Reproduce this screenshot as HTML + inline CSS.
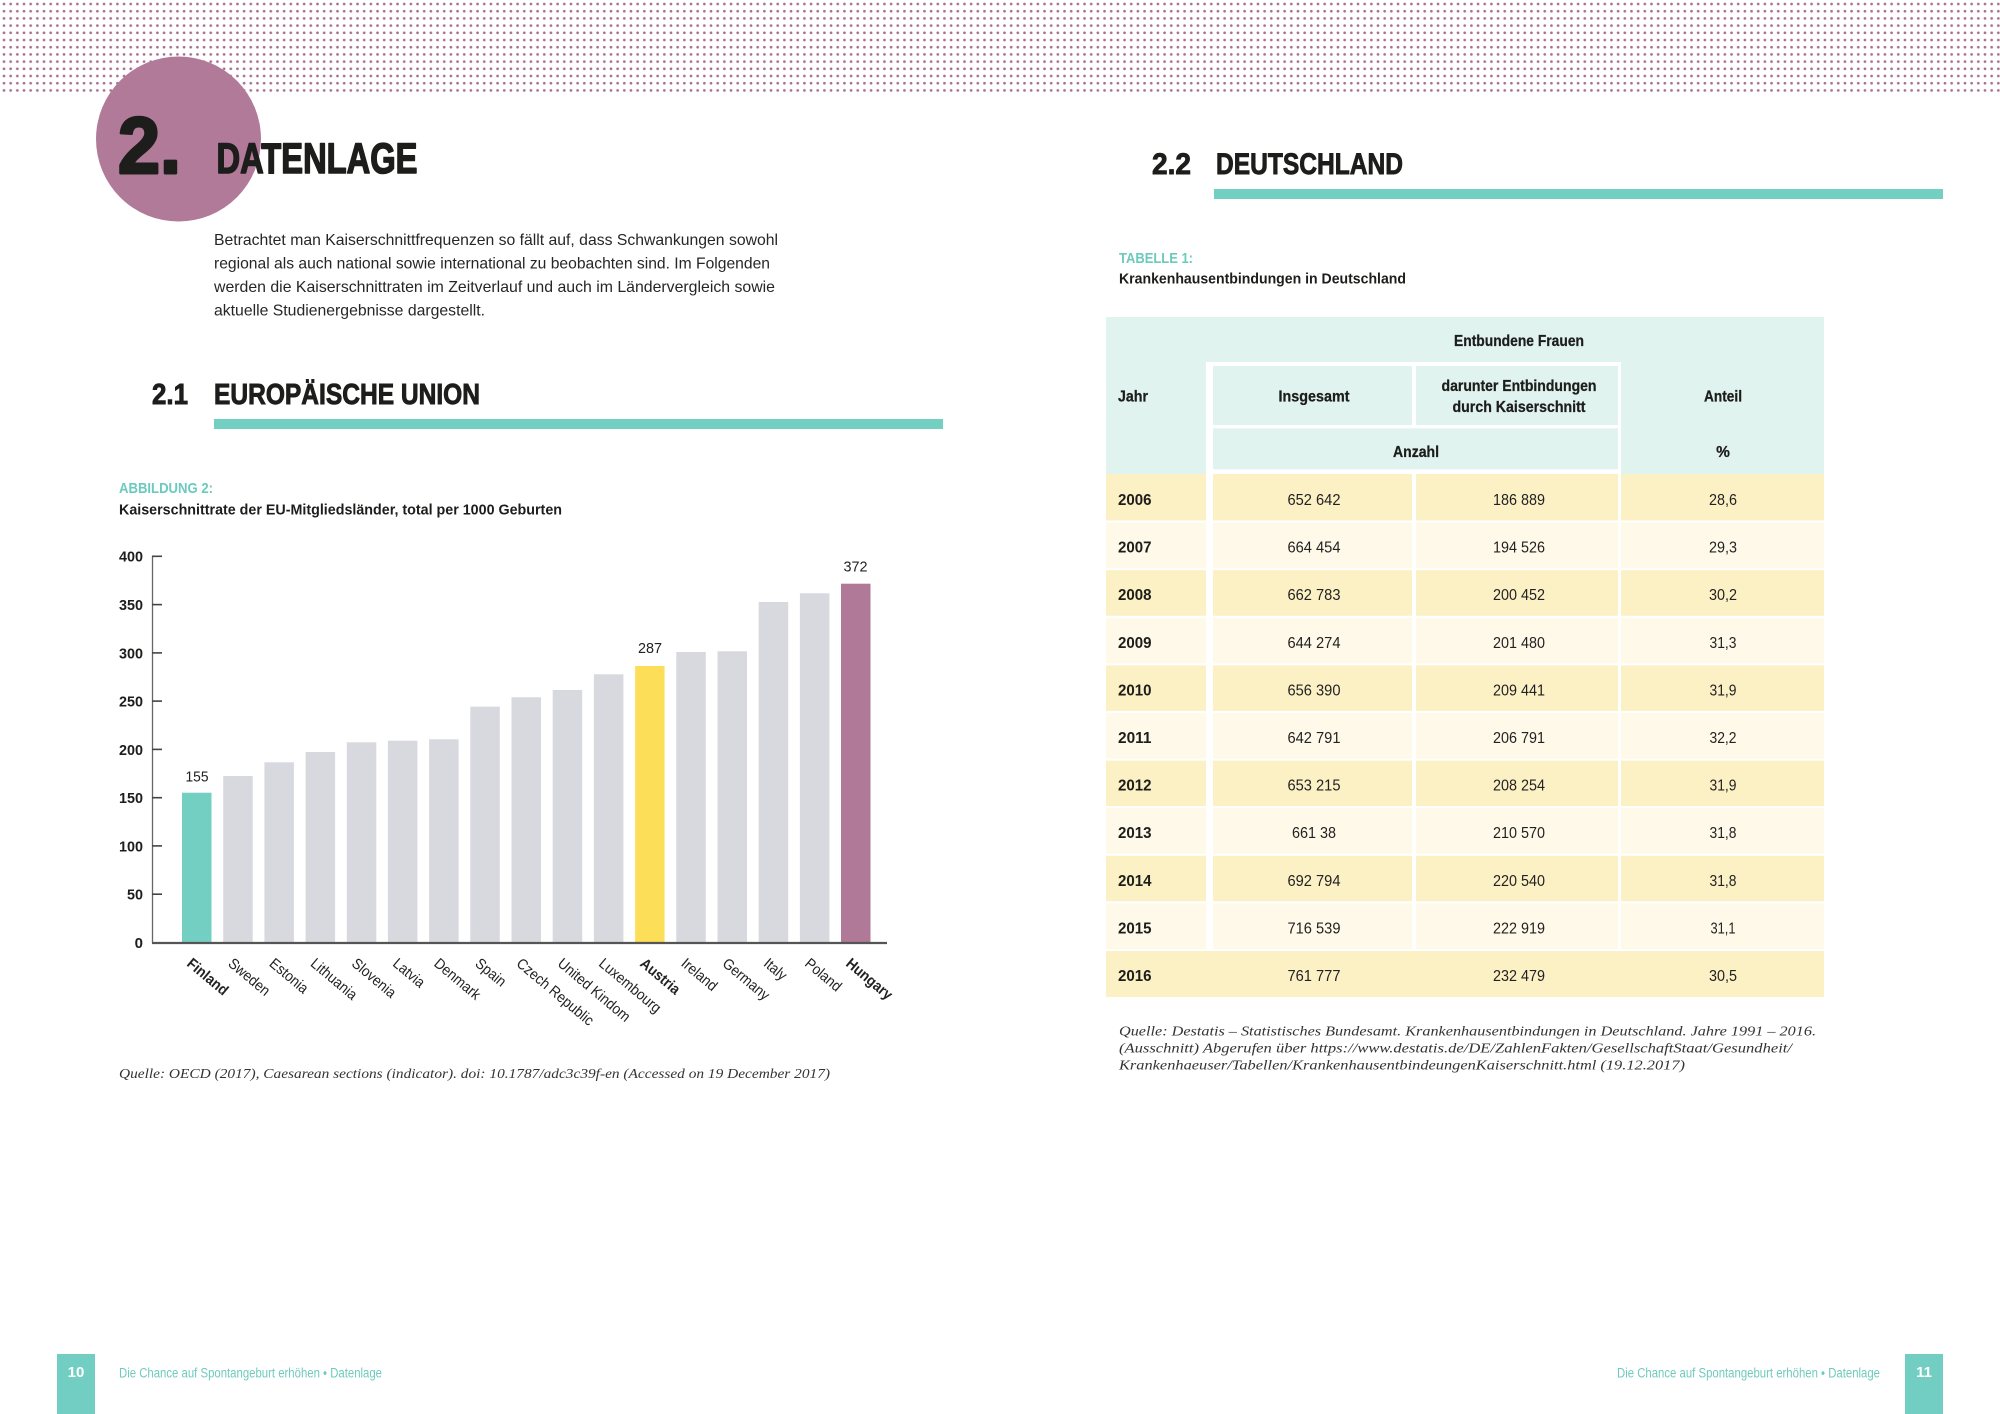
<!DOCTYPE html>
<html>
<head>
<meta charset="utf-8">
<style>
  html, body { margin: 0; padding: 0; background: #ffffff; }
  body { width: 2000px; height: 1414px; overflow: hidden; }
  svg { display: block; }
  .s { font-family: "Liberation Sans", Arial, sans-serif; }
  .b { font-weight: bold; }
  .it { font-family: "Liberation Serif", serif; font-style: italic; }
</style>
</head>
<body>
<svg width="2000" height="1414" viewBox="0 0 2000 1414" xmlns="http://www.w3.org/2000/svg">
  <defs>
    <pattern id="dots" width="6.67" height="7.2" patternUnits="userSpaceOnUse" x="0.67" y="0.4">
      <circle cx="3.33" cy="3.6" r="1.35" fill="#a8708f"/>
    </pattern>
  </defs>
  <rect x="0" y="0" width="2000" height="1414" fill="#ffffff"/>
  <!-- dotted header -->
  <rect x="0" y="0" width="2000" height="93" fill="url(#dots)"/>

  <!-- ============ LEFT PAGE ============ -->
  <circle cx="178.5" cy="139" r="82.5" fill="#b27a99"/>
  <text class="s b" x="118" y="173" font-size="80" fill="#1d1d1b" stroke="#1d1d1b" stroke-width="3" stroke-linejoin="round" textLength="63" lengthAdjust="spacingAndGlyphs">2.</text>
  <text class="s b" x="216.5" y="173" font-size="43" fill="#1d1d1b" stroke="#1d1d1b" stroke-width="1.6" stroke-linejoin="round" textLength="201" lengthAdjust="spacingAndGlyphs">DATENLAGE</text>

  <g class="s" font-size="16" fill="#262626">
    <text x="214" y="245" textLength="564" lengthAdjust="spacingAndGlyphs">Betrachtet man Kaiserschnittfrequenzen so fällt auf, dass Schwankungen sowohl</text>
    <text x="214" y="268.5" textLength="556" lengthAdjust="spacingAndGlyphs">regional als auch national sowie international zu beobachten sind. Im Folgenden</text>
    <text x="214" y="292" textLength="561" lengthAdjust="spacingAndGlyphs">werden die Kaiserschnittraten im Zeitverlauf und auch im Ländervergleich sowie</text>
    <text x="214" y="315.5" textLength="271" lengthAdjust="spacingAndGlyphs">aktuelle Studienergebnisse dargestellt.</text>
  </g>

  <text class="s b" x="152" y="404" font-size="29" fill="#1d1d1b" stroke="#1d1d1b" stroke-width="0.9" textLength="36" lengthAdjust="spacingAndGlyphs">2.1</text>
  <text class="s b" x="214" y="404" font-size="29" fill="#1d1d1b" stroke="#1d1d1b" stroke-width="0.9" textLength="266" lengthAdjust="spacingAndGlyphs">EUROPÄISCHE UNION</text>
  <rect x="214" y="419" width="729" height="10" fill="#74cfc3"/>

  <text class="s b" x="119" y="493" font-size="15" fill="#6ccabd" textLength="94" lengthAdjust="spacingAndGlyphs">ABBILDUNG 2:</text>
  <text class="s b" x="119" y="514.5" font-size="14.5" fill="#1d1d1b" textLength="443" lengthAdjust="spacingAndGlyphs">Kaiserschnittrate der EU-Mitgliedsländer, total per 1000 Geburten</text>

  <!-- chart -->
  <g>
    <!-- bars -->
    <rect x="182" y="792.7" width="29.5" height="150" fill="#74cfc3"/>
    <rect x="223.2" y="776" width="29.5" height="167" fill="#d8d8df"/>
    <rect x="264.4" y="762.3" width="29.5" height="181" fill="#d8d8df"/>
    <rect x="305.6" y="752" width="29.5" height="191" fill="#d8d8df"/>
    <rect x="346.8" y="742.3" width="29.5" height="201" fill="#d8d8df"/>
    <rect x="387.9" y="740.7" width="29.5" height="202" fill="#d8d8df"/>
    <rect x="429.1" y="739.3" width="29.5" height="204" fill="#d8d8df"/>
    <rect x="470.3" y="706.7" width="29.5" height="236" fill="#d8d8df"/>
    <rect x="511.5" y="697.3" width="29.5" height="246" fill="#d8d8df"/>
    <rect x="552.7" y="690" width="29.5" height="253" fill="#d8d8df"/>
    <rect x="593.9" y="674.3" width="29.5" height="269" fill="#d8d8df"/>
    <rect x="635.1" y="666" width="29.5" height="277" fill="#fdde58"/>
    <rect x="676.3" y="652" width="29.5" height="291" fill="#d8d8df"/>
    <rect x="717.5" y="651.3" width="29.5" height="292" fill="#d8d8df"/>
    <rect x="758.7" y="602" width="29.5" height="341" fill="#d8d8df"/>
    <rect x="799.9" y="593.3" width="29.5" height="350" fill="#d8d8df"/>
    <rect x="841" y="583.7" width="29.5" height="359" fill="#b07997"/>

    <!-- axes -->
    <line x1="152.5" y1="556" x2="152.5" y2="943" stroke="#666" stroke-width="1.3"/>
    <line x1="152" y1="943" x2="887" y2="943" stroke="#555" stroke-width="2.2"/>
    <g stroke="#444" stroke-width="1.6">
      <line x1="152" y1="556.3" x2="162" y2="556.3"/>
      <line x1="152" y1="604.6" x2="162" y2="604.6"/>
      <line x1="152" y1="652.9" x2="162" y2="652.9"/>
      <line x1="152" y1="701.1" x2="162" y2="701.1"/>
      <line x1="152" y1="749.4" x2="162" y2="749.4"/>
      <line x1="152" y1="797.7" x2="162" y2="797.7"/>
      <line x1="152" y1="845.9" x2="162" y2="845.9"/>
      <line x1="152" y1="894.2" x2="162" y2="894.2"/>
    </g>
    <g class="s b" font-size="15" fill="#1d1d1b" text-anchor="end">
      <text x="143" y="561.7" textLength="24" lengthAdjust="spacingAndGlyphs">400</text>
      <text x="143" y="610" textLength="24" lengthAdjust="spacingAndGlyphs">350</text>
      <text x="143" y="658.3" textLength="24" lengthAdjust="spacingAndGlyphs">300</text>
      <text x="143" y="706.5" textLength="24" lengthAdjust="spacingAndGlyphs">250</text>
      <text x="143" y="754.8" textLength="24" lengthAdjust="spacingAndGlyphs">200</text>
      <text x="143" y="803.1" textLength="24" lengthAdjust="spacingAndGlyphs">150</text>
      <text x="143" y="851.3" textLength="24" lengthAdjust="spacingAndGlyphs">100</text>
      <text x="143" y="899.6" textLength="16" lengthAdjust="spacingAndGlyphs">50</text>
      <text x="143" y="947.9">0</text>
    </g>

    <!-- value labels -->
    <g class="s" font-size="15" fill="#222" text-anchor="middle">
      <text x="197" y="781.7" textLength="23" lengthAdjust="spacingAndGlyphs">155</text>
      <text x="650" y="653" textLength="24" lengthAdjust="spacingAndGlyphs">287</text>
      <text x="855.5" y="571.5" textLength="24" lengthAdjust="spacingAndGlyphs">372</text>
    </g>

    <!-- x labels -->
    <g class="s" font-size="15" fill="#222">
      <text class="b" transform="translate(186,965) rotate(40) scale(0.91,1)">Finland</text>
      <text transform="translate(227.2,965) rotate(40) scale(0.91,1)">Sweden</text>
      <text transform="translate(268.4,965) rotate(40) scale(0.91,1)">Estonia</text>
      <text transform="translate(309.6,965) rotate(40) scale(0.91,1)">Lithuania</text>
      <text transform="translate(350.8,965) rotate(40) scale(0.91,1)">Slovenia</text>
      <text transform="translate(391.9,965) rotate(40) scale(0.91,1)">Latvia</text>
      <text transform="translate(433.1,965) rotate(40) scale(0.91,1)">Denmark</text>
      <text transform="translate(474.3,965) rotate(40) scale(0.91,1)">Spain</text>
      <text transform="translate(515.5,965) rotate(40) scale(0.91,1)">Czech Republic</text>
      <text transform="translate(556.7,965) rotate(40) scale(0.91,1)">United Kindom</text>
      <text transform="translate(597.9,965) rotate(40) scale(0.91,1)">Luxembourg</text>
      <text class="b" transform="translate(639.1,965) rotate(40) scale(0.91,1)">Austria</text>
      <text transform="translate(680.3,965) rotate(40) scale(0.91,1)">Ireland</text>
      <text transform="translate(721.5,965) rotate(40) scale(0.91,1)">Germany</text>
      <text transform="translate(762.7,965) rotate(40) scale(0.91,1)">Italy</text>
      <text transform="translate(803.9,965) rotate(40) scale(0.91,1)">Poland</text>
      <text class="b" transform="translate(845,965) rotate(40) scale(0.91,1)">Hungary</text>
    </g>
  </g>

  <text class="it" x="119" y="1078" font-size="14" fill="#333" textLength="711" lengthAdjust="spacingAndGlyphs">Quelle: OECD (2017), Caesarean sections (indicator). doi: 10.1787/adc3c39f-en (Accessed on 19 December 2017)</text>

  <!-- left footer -->
  <rect x="57" y="1354" width="38" height="60" fill="#72cec3"/>
  <text class="s b" x="76" y="1377" font-size="15" fill="#ffffff" text-anchor="middle">10</text>
  <text class="s" x="119" y="1377.3" font-size="13.5" fill="#6fcabe" textLength="263" lengthAdjust="spacingAndGlyphs">Die Chance auf Spontangeburt erhöhen • Datenlage</text>

  <!-- ============ RIGHT PAGE ============ -->
  <text class="s b" x="1152" y="174" font-size="30" fill="#1d1d1b" stroke="#1d1d1b" stroke-width="0.9" textLength="39" lengthAdjust="spacingAndGlyphs">2.2</text>
  <text class="s b" x="1216" y="174" font-size="30" fill="#1d1d1b" stroke="#1d1d1b" stroke-width="0.9" textLength="187" lengthAdjust="spacingAndGlyphs">DEUTSCHLAND</text>
  <rect x="1214" y="189" width="729" height="10" fill="#74cfc3"/>

  <text class="s b" x="1119" y="263" font-size="15" fill="#6ccabd" textLength="74" lengthAdjust="spacingAndGlyphs">TABELLE 1:</text>
  <text class="s b" x="1119" y="283.5" font-size="14.5" fill="#1d1d1b" textLength="287" lengthAdjust="spacingAndGlyphs">Krankenhausentbindungen in Deutschland</text>

  <!-- table header -->
  <rect x="1106" y="317" width="718" height="157" fill="#e0f3ef"/>
  <g fill="#ffffff">
    <rect x="1206" y="362" width="415" height="4"/>
    <rect x="1206" y="362" width="7" height="112"/>
    <rect x="1618" y="362" width="3" height="112"/>
    <rect x="1206" y="425" width="415" height="3.3"/>
    <rect x="1412" y="362" width="4" height="65"/>
    <rect x="1206" y="469.3" width="415" height="4.7"/>
  </g>
  <g class="s b" font-size="15.5" fill="#1d1d1b" stroke="#1d1d1b" stroke-width="0.25">
    <text x="1519" y="346" text-anchor="middle" textLength="130" lengthAdjust="spacingAndGlyphs">Entbundene Frauen</text>
    <text x="1118" y="401.5" textLength="30" lengthAdjust="spacingAndGlyphs">Jahr</text>
    <text x="1314" y="401.5" text-anchor="middle" textLength="71" lengthAdjust="spacingAndGlyphs">Insgesamt</text>
    <text x="1519" y="391" text-anchor="middle" textLength="155" lengthAdjust="spacingAndGlyphs">darunter Entbindungen</text>
    <text x="1519" y="412" text-anchor="middle" textLength="133" lengthAdjust="spacingAndGlyphs">durch Kaiserschnitt</text>
    <text x="1723" y="401.5" text-anchor="middle" textLength="38" lengthAdjust="spacingAndGlyphs">Anteil</text>
    <text x="1416" y="457" text-anchor="middle" textLength="46" lengthAdjust="spacingAndGlyphs">Anzahl</text>
    <text x="1723" y="457" text-anchor="middle">%</text>
  </g>

  <!-- table rows -->
  <g>
    <g fill="#fcf0c5">
      <rect x="1106" y="474" width="100" height="46.5"/><rect x="1213" y="474" width="199" height="46.5"/><rect x="1416" y="474" width="202" height="46.5"/><rect x="1621" y="474" width="203" height="46.5"/>
    </g>
    <g fill="#fef9e9">
      <rect x="1106" y="522.6" width="100" height="45.5"/><rect x="1213" y="522.6" width="199" height="45.5"/><rect x="1416" y="522.6" width="202" height="45.5"/><rect x="1621" y="522.6" width="203" height="45.5"/>
    </g>
    <g fill="#fcf0c5">
      <rect x="1106" y="570.2" width="100" height="45.5"/><rect x="1213" y="570.2" width="199" height="45.5"/><rect x="1416" y="570.2" width="202" height="45.5"/><rect x="1621" y="570.2" width="203" height="45.5"/>
    </g>
    <g fill="#fef9e9">
      <rect x="1106" y="617.8" width="100" height="45.5"/><rect x="1213" y="617.8" width="199" height="45.5"/><rect x="1416" y="617.8" width="202" height="45.5"/><rect x="1621" y="617.8" width="203" height="45.5"/>
    </g>
    <g fill="#fcf0c5">
      <rect x="1106" y="665.4" width="100" height="45.5"/><rect x="1213" y="665.4" width="199" height="45.5"/><rect x="1416" y="665.4" width="202" height="45.5"/><rect x="1621" y="665.4" width="203" height="45.5"/>
    </g>
    <g fill="#fef9e9">
      <rect x="1106" y="713" width="100" height="45.5"/><rect x="1213" y="713" width="199" height="45.5"/><rect x="1416" y="713" width="202" height="45.5"/><rect x="1621" y="713" width="203" height="45.5"/>
    </g>
    <g fill="#fcf0c5">
      <rect x="1106" y="760.6" width="100" height="45.5"/><rect x="1213" y="760.6" width="199" height="45.5"/><rect x="1416" y="760.6" width="202" height="45.5"/><rect x="1621" y="760.6" width="203" height="45.5"/>
    </g>
    <g fill="#fef9e9">
      <rect x="1106" y="808.2" width="100" height="45.5"/><rect x="1213" y="808.2" width="199" height="45.5"/><rect x="1416" y="808.2" width="202" height="45.5"/><rect x="1621" y="808.2" width="203" height="45.5"/>
    </g>
    <g fill="#fcf0c5">
      <rect x="1106" y="855.8" width="100" height="45.5"/><rect x="1213" y="855.8" width="199" height="45.5"/><rect x="1416" y="855.8" width="202" height="45.5"/><rect x="1621" y="855.8" width="203" height="45.5"/>
    </g>
    <g fill="#fef9e9">
      <rect x="1106" y="903.4" width="100" height="45.5"/><rect x="1213" y="903.4" width="199" height="45.5"/><rect x="1416" y="903.4" width="202" height="45.5"/><rect x="1621" y="903.4" width="203" height="45.5"/>
    </g>
    <rect x="1106" y="951" width="718" height="46" fill="#fcf0c5"/>
  </g>

  <g class="s" font-size="16" fill="#222">
    <g class="b" fill="#1d1d1b">
      <text x="1118" y="505" textLength="33.5" lengthAdjust="spacingAndGlyphs">2006</text>
      <text x="1118" y="552.6" textLength="33.5" lengthAdjust="spacingAndGlyphs">2007</text>
      <text x="1118" y="600.2" textLength="33.5" lengthAdjust="spacingAndGlyphs">2008</text>
      <text x="1118" y="647.8" textLength="33.5" lengthAdjust="spacingAndGlyphs">2009</text>
      <text x="1118" y="695.4" textLength="33.5" lengthAdjust="spacingAndGlyphs">2010</text>
      <text x="1118" y="743" textLength="33.5" lengthAdjust="spacingAndGlyphs">2011</text>
      <text x="1118" y="790.6" textLength="33.5" lengthAdjust="spacingAndGlyphs">2012</text>
      <text x="1118" y="838.2" textLength="33.5" lengthAdjust="spacingAndGlyphs">2013</text>
      <text x="1118" y="885.8" textLength="33.5" lengthAdjust="spacingAndGlyphs">2014</text>
      <text x="1118" y="933.4" textLength="33.5" lengthAdjust="spacingAndGlyphs">2015</text>
      <text x="1118" y="981" textLength="33.5" lengthAdjust="spacingAndGlyphs">2016</text>
    </g>
    <g text-anchor="middle">
      <text x="1314" y="505" textLength="53" lengthAdjust="spacingAndGlyphs">652 642</text>
      <text x="1314" y="552.6" textLength="53" lengthAdjust="spacingAndGlyphs">664 454</text>
      <text x="1314" y="600.2" textLength="53" lengthAdjust="spacingAndGlyphs">662 783</text>
      <text x="1314" y="647.8" textLength="53" lengthAdjust="spacingAndGlyphs">644 274</text>
      <text x="1314" y="695.4" textLength="53" lengthAdjust="spacingAndGlyphs">656 390</text>
      <text x="1314" y="743" textLength="53" lengthAdjust="spacingAndGlyphs">642 791</text>
      <text x="1314" y="790.6" textLength="53" lengthAdjust="spacingAndGlyphs">653 215</text>
      <text x="1314" y="838.2" textLength="44" lengthAdjust="spacingAndGlyphs">661 38</text>
      <text x="1314" y="885.8" textLength="53" lengthAdjust="spacingAndGlyphs">692 794</text>
      <text x="1314" y="933.4" textLength="53" lengthAdjust="spacingAndGlyphs">716 539</text>
      <text x="1314" y="981" textLength="53" lengthAdjust="spacingAndGlyphs">761 777</text>

      <text x="1519" y="505" textLength="52" lengthAdjust="spacingAndGlyphs">186 889</text>
      <text x="1519" y="552.6" textLength="52" lengthAdjust="spacingAndGlyphs">194 526</text>
      <text x="1519" y="600.2" textLength="52" lengthAdjust="spacingAndGlyphs">200 452</text>
      <text x="1519" y="647.8" textLength="52" lengthAdjust="spacingAndGlyphs">201 480</text>
      <text x="1519" y="695.4" textLength="52" lengthAdjust="spacingAndGlyphs">209 441</text>
      <text x="1519" y="743" textLength="52" lengthAdjust="spacingAndGlyphs">206 791</text>
      <text x="1519" y="790.6" textLength="52" lengthAdjust="spacingAndGlyphs">208 254</text>
      <text x="1519" y="838.2" textLength="52" lengthAdjust="spacingAndGlyphs">210 570</text>
      <text x="1519" y="885.8" textLength="52" lengthAdjust="spacingAndGlyphs">220 540</text>
      <text x="1519" y="933.4" textLength="52" lengthAdjust="spacingAndGlyphs">222 919</text>
      <text x="1519" y="981" textLength="52" lengthAdjust="spacingAndGlyphs">232 479</text>

      <text x="1723" y="505" textLength="28" lengthAdjust="spacingAndGlyphs">28,6</text>
      <text x="1723" y="552.6" textLength="28" lengthAdjust="spacingAndGlyphs">29,3</text>
      <text x="1723" y="600.2" textLength="28" lengthAdjust="spacingAndGlyphs">30,2</text>
      <text x="1723" y="647.8" textLength="27" lengthAdjust="spacingAndGlyphs">31,3</text>
      <text x="1723" y="695.4" textLength="27" lengthAdjust="spacingAndGlyphs">31,9</text>
      <text x="1723" y="743" textLength="27" lengthAdjust="spacingAndGlyphs">32,2</text>
      <text x="1723" y="790.6" textLength="27" lengthAdjust="spacingAndGlyphs">31,9</text>
      <text x="1723" y="838.2" textLength="27" lengthAdjust="spacingAndGlyphs">31,8</text>
      <text x="1723" y="885.8" textLength="27" lengthAdjust="spacingAndGlyphs">31,8</text>
      <text x="1723" y="933.4" textLength="25" lengthAdjust="spacingAndGlyphs">31,1</text>
      <text x="1723" y="981" textLength="28" lengthAdjust="spacingAndGlyphs">30,5</text>
    </g>
  </g>

  <g class="it" font-size="14" fill="#333">
    <text x="1119" y="1035.5" textLength="697" lengthAdjust="spacingAndGlyphs">Quelle: Destatis – Statistisches Bundesamt. Krankenhausentbindungen in Deutschland. Jahre 1991 – 2016.</text>
    <text x="1119" y="1052.5" textLength="673" lengthAdjust="spacingAndGlyphs">(Ausschnitt) Abgerufen über https://www.destatis.de/DE/ZahlenFakten/GesellschaftStaat/Gesundheit/</text>
    <text x="1119" y="1069.3" textLength="566" lengthAdjust="spacingAndGlyphs">Krankenhaeuser/Tabellen/KrankenhausentbindeungenKaiserschnitt.html (19.12.2017)</text>
  </g>

  <!-- right footer -->
  <text class="s" x="1617" y="1377.3" font-size="13.5" fill="#6fcabe" textLength="263" lengthAdjust="spacingAndGlyphs">Die Chance auf Spontangeburt erhöhen • Datenlage</text>
  <rect x="1905" y="1354" width="38" height="60" fill="#72cec3"/>
  <text class="s b" x="1924" y="1377" font-size="15" fill="#ffffff" text-anchor="middle">11</text>
</svg>
</body>
</html>
